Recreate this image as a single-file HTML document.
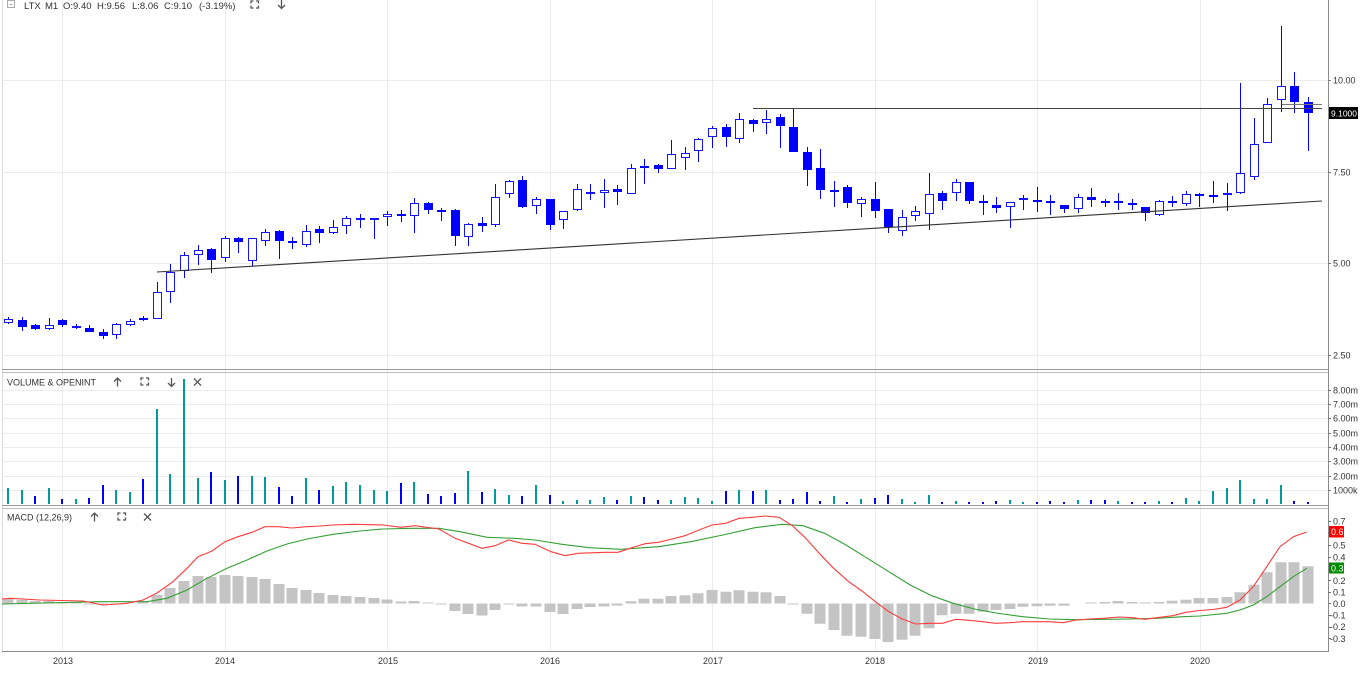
<!DOCTYPE html>
<html><head><meta charset="utf-8">
<style>
html,body{margin:0;padding:0;background:#fff;}
body{width:1366px;height:675px;overflow:hidden;}
svg{display:block;font-family:"Liberation Sans",Arial,sans-serif;}
</style></head><body>
<svg width="1366" height="675" viewBox="0 0 1366 675" xmlns="http://www.w3.org/2000/svg">
<rect x="0" y="0" width="1366" height="675" fill="#fff"/>
<!-- grid -->
<g stroke="#ececec" stroke-width="1" shape-rendering="crispEdges">
<path d="M62.5 0V651M225.5 0V651M387.5 0V651M550.5 0V651M712.5 0V651M875.5 0V651M1037.5 0V651M1200.5 0V651"/>
<path d="M2 80.5H1328M2 172.5H1328M2 263.5H1328M2 355.5H1328"/>
<path d="M2 390.5H1328M2 404.5H1328M2 418.5H1328M2 433.5H1328M2 447.5H1328M2 461.5H1328M2 476.5H1328M2 490.5H1328"/>
</g>
<!-- borders -->
<g shape-rendering="crispEdges">
<path d="M2.5 0V651" stroke="#dcdcdc"/>
<path d="M2 369.5H1328" stroke="#9a9a9a"/>
<path d="M2 372.5H1328" stroke="#bdbdbd"/>
<path d="M2 505.5H1328" stroke="#9a9a9a"/>
<path d="M2 508.5H1328" stroke="#bdbdbd"/>
<path d="M2 651.5H1328" stroke="#8a8a8a"/>
<path d="M1328.5 0V652" stroke="#8a8a8a"/>
<path d="M1328 80.5h3M1328 172.5h3M1328 263.5h3M1328 355.5h3M1328 390.5h3M1328 404.5h3M1328 418.5h3M1328 433.5h3M1328 447.5h3M1328 461.5h3M1328 476.5h3M1328 490.5h3M1328 521.5h3M1328 533.5h3M1328 545.5h3M1328 557.5h3M1328 569.5h3M1328 580.5h3M1328 592.5h3M1328 603.5h3M1328 615.5h3M1328 627.5h3M1328 638.5h3" stroke="#777"/>
</g>

<!-- candle wicks -->
<path stroke="#0000ff" stroke-width="1" fill="none" shape-rendering="crispEdges" d="M8.5 317V324M22.5 317V331M35.5 324V330M49.5 318V330M62.5 319V327M76.5 324V329M89.5 325V332M103.5 329V339M116.5 323V339M130.5 319V326M143.5 316V321M157.5 282V319M170.5 264V303M184.5 252V278M198.5 245V265M211.5 248V273M225.5 236V262M238.5 237V253M252.5 238V266M265.5 229V246M279.5 230V259M292.5 237V249M306.5 225V247M319.5 226V243M333.5 220V234M346.5 216V234M360.5 214V228M374.5 219V239M387.5 211V226M401.5 210V222M414.5 198V233M428.5 202V214M441.5 208V221M455.5 209V246M468.5 223V246M482.5 217V232M495.5 184V227M509.5 180V198M522.5 176V208M536.5 197V214M550.5 199V230M563.5 211V229M577.5 184V211M590.5 184V200M604.5 179V208M617.5 185V205M631.5 164V194M644.5 159V184M658.5 164V173M671.5 140V169M685.5 147V170M698.5 138V162M712.5 126V148M726.5 124V147M739.5 113V143M753.5 119V132M766.5 110V134M780.5 114V148M793.5 109V152M807.5 147V186M820.5 149V199M834.5 181V207M847.5 185V208M861.5 197V217M875.5 182V218M888.5 209V233M902.5 210V236M915.5 206V221M929.5 173V230M942.5 191V210M956.5 179V201M969.5 182V204M983.5 195V215M996.5 197V213M1010.5 202V228M1023.5 195V210M1037.5 187V212M1050.5 195V215M1064.5 205V213M1078.5 194V213M1091.5 188V207M1105.5 199V207M1118.5 193V210M1132.5 199V210M1145.5 207V221M1159.5 200V216M1172.5 196V207M1186.5 191V206M1199.5 193V207M1213.5 181V203M1227.5 183V211M1240.5 83V194M1254.5 118V180M1267.5 98V143M1281.5 26V112M1294.5 72V113M1308.5 97V151"/>
<!-- filled bodies -->
<path fill="#0000ff" shape-rendering="crispEdges" d="M18 320h9V327h-9ZM31 325h9V329h-9ZM58 320h9V325h-9ZM85 328h9V332h-9ZM99 332h9V336h-9ZM139 318h9V320h-9ZM207 249h9V260h-9ZM234 238h9V242h-9ZM275 231h9V241h-9ZM288 241h9V243h-9ZM315 229h9V233h-9ZM397 214h9V216h-9ZM424 203h9V210h-9ZM437 210h9V212h-9ZM451 210h9V236h-9ZM478 223h9V226h-9ZM518 180h9V207h-9ZM546 199h9V225h-9ZM613 189h9V192h-9ZM640 166h9V168h-9ZM654 165h9V169h-9ZM722 127h9V137h-9ZM749 120h9V124h-9ZM776 117h9V126h-9ZM789 127h9V152h-9ZM803 152h9V170h-9ZM816 168h9V190h-9ZM830 190h9V192h-9ZM843 187h9V203h-9ZM871 199h9V211h-9ZM884 209h9V227h-9ZM938 193h9V201h-9ZM965 182h9V201h-9ZM979 201h9V203h-9ZM992 205h9V208h-9ZM1033 200h9V202h-9ZM1046 201h9V203h-9ZM1060 205h9V209h-9ZM1087 197h9V200h-9ZM1101 201h9V203h-9ZM1114 201h9V203h-9ZM1128 203h9V205h-9ZM1141 207h9V213h-9ZM1168 201h9V203h-9ZM1195 194h9V196h-9ZM1209 195h9V197h-9ZM1290 86h9V102h-9ZM1304 102h9V113h-9Z"/>
<!-- hollow bodies -->
<path fill="#fff" stroke="#1414ff" stroke-width="1" shape-rendering="crispEdges" d="M4.5 319.5h8V322.5h-8ZM45.5 325.5h8V328.5h-8ZM72.5 326.5h8V327.5h-8ZM112.5 324.5h8V334.5h-8ZM126.5 321.5h8V324.5h-8ZM153.5 292.5h8V318.5h-8ZM166.5 272.5h8V291.5h-8ZM180.5 255.5h8V270.5h-8ZM194.5 250.5h8V254.5h-8ZM221.5 238.5h8V257.5h-8ZM248.5 238.5h8V260.5h-8ZM261.5 232.5h8V240.5h-8ZM302.5 231.5h8V244.5h-8ZM329.5 227.5h8V232.5h-8ZM342.5 218.5h8V225.5h-8ZM356.5 218.5h8V219.5h-8ZM370.5 218.5h8V219.5h-8ZM383.5 214.5h8V216.5h-8ZM410.5 203.5h8V215.5h-8ZM464.5 224.5h8V236.5h-8ZM491.5 197.5h8V224.5h-8ZM505.5 181.5h8V193.5h-8ZM532.5 199.5h8V205.5h-8ZM559.5 211.5h8V219.5h-8ZM573.5 189.5h8V209.5h-8ZM586.5 192.5h8V193.5h-8ZM600.5 190.5h8V192.5h-8ZM627.5 168.5h8V193.5h-8ZM667.5 154.5h8V168.5h-8ZM681.5 153.5h8V157.5h-8ZM694.5 139.5h8V150.5h-8ZM708.5 128.5h8V136.5h-8ZM735.5 119.5h8V138.5h-8ZM762.5 119.5h8V122.5h-8ZM857.5 199.5h8V203.5h-8ZM898.5 217.5h8V230.5h-8ZM911.5 211.5h8V215.5h-8ZM925.5 194.5h8V213.5h-8ZM952.5 182.5h8V192.5h-8ZM1006.5 202.5h8V206.5h-8ZM1019.5 198.5h8V199.5h-8ZM1074.5 197.5h8V208.5h-8ZM1155.5 201.5h8V214.5h-8ZM1182.5 194.5h8V203.5h-8ZM1223.5 193.5h8V194.5h-8ZM1236.5 173.5h8V192.5h-8ZM1250.5 144.5h8V176.5h-8ZM1263.5 104.5h8V142.5h-8ZM1277.5 86.5h8V99.5h-8Z"/>

<!-- drawn lines -->
<line x1="157" y1="272" x2="1322" y2="201" stroke="#333" stroke-width="1.1"/>
<path d="M753 108.5H1322" stroke="#444" stroke-width="1" shape-rendering="crispEdges"/>
<path d="M1282 104.5H1322" stroke="#777" stroke-width="1" shape-rendering="crispEdges"/>

<!-- volume -->
<path fill="#009b9b" shape-rendering="crispEdges" d="M7 488h2V504h-2ZM21 490h2V504h-2ZM48 488h2V504h-2ZM75 499h2V504h-2ZM115 490h2V504h-2ZM129 492h2V504h-2ZM156 409h2V504h-2ZM169 474h2V504h-2ZM183 379h2V504h-2ZM197 478h2V504h-2ZM224 480h2V504h-2ZM251 476h2V504h-2ZM264 477h2V504h-2ZM305 478h2V504h-2ZM332 486h2V504h-2ZM345 482h2V504h-2ZM359 485h2V504h-2ZM373 490h2V504h-2ZM386 491h2V504h-2ZM413 482h2V504h-2ZM467 471h2V504h-2ZM494 489h2V504h-2ZM508 495h2V504h-2ZM535 485h2V504h-2ZM562 501h2V504h-2ZM576 500h2V504h-2ZM589 500h2V504h-2ZM603 497h2V504h-2ZM630 496h2V504h-2ZM670 500h2V504h-2ZM684 497h2V504h-2ZM697 498h2V504h-2ZM711 501h2V504h-2ZM738 490h2V504h-2ZM765 490h2V504h-2ZM833 496h2V504h-2ZM860 499h2V504h-2ZM901 499h2V504h-2ZM914 502h2V504h-2ZM928 495h2V504h-2ZM955 501h2V504h-2ZM1009 500h2V504h-2ZM1022 502h2V504h-2ZM1077 500h2V504h-2ZM1117 501h2V504h-2ZM1158 501h2V504h-2ZM1185 498h2V504h-2ZM1198 501h2V504h-2ZM1212 491h2V504h-2ZM1226 488h2V504h-2ZM1239 480h2V504h-2ZM1253 499h2V504h-2ZM1266 499h2V504h-2ZM1280 485h2V504h-2Z"/>
<path fill="#0000ff" shape-rendering="crispEdges" d="M34 496h2V504h-2ZM61 499h2V504h-2ZM88 498h2V504h-2ZM102 485h2V504h-2ZM142 479h2V504h-2ZM210 472h2V504h-2ZM237 476h2V504h-2ZM278 487h2V504h-2ZM291 496h2V504h-2ZM318 490h2V504h-2ZM400 483h2V504h-2ZM427 494h2V504h-2ZM440 496h2V504h-2ZM454 493h2V504h-2ZM481 492h2V504h-2ZM521 496h2V504h-2ZM549 495h2V504h-2ZM616 500h2V504h-2ZM643 497h2V504h-2ZM657 500h2V504h-2ZM725 491h2V504h-2ZM752 491h2V504h-2ZM779 500h2V504h-2ZM792 499h2V504h-2ZM806 492h2V504h-2ZM819 501h2V504h-2ZM846 502h2V504h-2ZM874 498h2V504h-2ZM887 495h2V504h-2ZM941 502h2V504h-2ZM968 502h2V504h-2ZM982 502h2V504h-2ZM995 501h2V504h-2ZM1036 502h2V504h-2ZM1049 501h2V504h-2ZM1063 502h2V504h-2ZM1090 500h2V504h-2ZM1104 500h2V504h-2ZM1131 502h2V504h-2ZM1144 502h2V504h-2ZM1171 502h2V504h-2ZM1293 501h2V504h-2ZM1307 502h2V504h-2Z"/>

<!-- MACD histogram -->
<path fill="#c4c4c4" d="M2.5 599h11V603.5h-11ZM16.5 600h11V603.5h-11ZM29.5 601h11V603.5h-11ZM43.5 601h11V603.5h-11ZM56.5 602h11V603.5h-11ZM70.5 602.5h11V603.5h-11ZM83.5 604.5h11V603.5h-11ZM97.5 605h11V603.5h-11ZM110.5 604.5h11V603.5h-11ZM137.5 602h11V603.5h-11ZM151.5 595h11V603.5h-11ZM164.5 588h11V603.5h-11ZM178.5 581h11V603.5h-11ZM192.5 576h11V603.5h-11ZM205.5 577h11V603.5h-11ZM219.5 575h11V603.5h-11ZM232.5 576h11V603.5h-11ZM246.5 577h11V603.5h-11ZM259.5 579h11V603.5h-11ZM273.5 584h11V603.5h-11ZM286.5 588h11V603.5h-11ZM300.5 590h11V603.5h-11ZM313.5 593h11V603.5h-11ZM327.5 595h11V603.5h-11ZM340.5 596h11V603.5h-11ZM354.5 597h11V603.5h-11ZM368.5 598h11V603.5h-11ZM381.5 599.5h11V603.5h-11ZM395.5 601.5h11V603.5h-11ZM408.5 601h11V603.5h-11ZM422.5 602.5h11V603.5h-11ZM435.5 604.5h11V603.5h-11ZM449.5 611h11V603.5h-11ZM462.5 614h11V603.5h-11ZM476.5 615.5h11V603.5h-11ZM489.5 610h11V603.5h-11ZM503.5 604.5h11V603.5h-11ZM516.5 606.5h11V603.5h-11ZM530.5 606.5h11V603.5h-11ZM544.5 612h11V603.5h-11ZM557.5 614h11V603.5h-11ZM571.5 609h11V603.5h-11ZM584.5 607h11V603.5h-11ZM598.5 606.5h11V603.5h-11ZM611.5 605.5h11V603.5h-11ZM625.5 601.3h11V603.5h-11ZM638.5 598.7h11V603.5h-11ZM652.5 598.7h11V603.5h-11ZM665.5 596h11V603.5h-11ZM679.5 595.3h11V603.5h-11ZM692.5 593.3h11V603.5h-11ZM706.5 590h11V603.5h-11ZM720.5 591.7h11V603.5h-11ZM733.5 590.3h11V603.5h-11ZM747.5 591.7h11V603.5h-11ZM760.5 592.3h11V603.5h-11ZM774.5 596h11V603.5h-11ZM787.5 604.5h11V603.5h-11ZM801.5 613.7h11V603.5h-11ZM814.5 623.7h11V603.5h-11ZM828.5 630h11V603.5h-11ZM841.5 635.7h11V603.5h-11ZM855.5 636.7h11V603.5h-11ZM869.5 639h11V603.5h-11ZM882.5 642h11V603.5h-11ZM896.5 639.7h11V603.5h-11ZM909.5 635.7h11V603.5h-11ZM923.5 628.3h11V603.5h-11ZM936.5 615.3h11V603.5h-11ZM950.5 613.7h11V603.5h-11ZM963.5 613.7h11V603.5h-11ZM977.5 611.7h11V603.5h-11ZM990.5 610h11V603.5h-11ZM1004.5 609h11V603.5h-11ZM1017.5 606.7h11V603.5h-11ZM1031.5 606.3h11V603.5h-11ZM1044.5 605.7h11V603.5h-11ZM1058.5 605.7h11V603.5h-11ZM1085.5 602.5h11V603.5h-11ZM1099.5 602h11V603.5h-11ZM1112.5 601h11V603.5h-11ZM1126.5 602h11V603.5h-11ZM1139.5 602.5h11V603.5h-11ZM1153.5 602h11V603.5h-11ZM1166.5 600.7h11V603.5h-11ZM1180.5 599.7h11V603.5h-11ZM1193.5 598h11V603.5h-11ZM1207.5 598h11V603.5h-11ZM1221.5 597h11V603.5h-11ZM1234.5 592.3h11V603.5h-11ZM1248.5 584.7h11V603.5h-11ZM1261.5 572.3h11V603.5h-11ZM1275.5 562.3h11V603.5h-11ZM1288.5 562.3h11V603.5h-11ZM1302.5 566.3h11V603.5h-11Z"/>

<!-- MACD lines -->
<polyline fill="none" stroke="#33a033" stroke-width="1.1" points="2,604 100,601.7 147,601.7 167,598.3 187,590 207,578.3 227,568.3 247,560 267,551 287,544 307,539 333,534.3 360,531 383,529 412,528.3 439,528.3 460,531.7 487,537.3 514,538.3 535,540 562,544.3 589,547.7 621,549.3 658.5,546.7 690.7,541.7 722.8,535 755,527.7 781.7,524.3 803,525.7 824.6,533.3 846,545 867.4,558.3 888.8,571.7 910.3,585 931.7,595.7 953.1,603.3 974.5,609 996,613 1022.7,616.7 1049.5,619 1076.3,619.7 1103.1,619.3 1129.9,619 1156.6,618.3 1183.4,616.7 1200,616 1226.7,613.3 1240,610 1253.3,605 1266.7,596.7 1280,586.7 1293.3,576.7 1306.7,568.3"/>
<polyline fill="none" stroke="#ff3b3b" stroke-width="1.1" points="2,599 10,598.3 40,600 83,601 103,605 127,603.3 143,600 157,593 173,581.7 187,568.3 198,556.7 212,551 225,541.7 238,536.7 252,532.3 265,526.7 278,526.7 292,528 307,526.7 320,526 333,525 353,524.3 383,525 401,527.3 415,525.7 439,529 455,538.3 482,548.3 495,545.7 508.5,540 522,543.3 535,544.3 551,551.7 565,555.7 578,553.3 605,552.3 618,552.3 632,547.7 645,543.7 658.5,542.3 672,539 685,535.7 699,530 712,525 725.5,523.3 739,518.3 752,517.3 765.6,516 779,517.3 792.4,525.7 805.8,538.3 819.2,553.3 832.6,567.3 848.7,581.7 862,591 875.4,601.7 888.8,611.7 902.2,619 915.6,624 929,623.3 942.4,623.3 955.8,619.3 969.2,620.3 982.6,621.7 996,623.3 1009.4,622.7 1022.7,621.7 1049.5,621.7 1062.9,622.7 1076.3,620 1089.7,619 1103.1,618.3 1119.1,617 1132.5,617.7 1144.9,619.3 1156.6,617.7 1172.7,615.7 1186.1,612.3 1199.5,610.5 1213,609.5 1226.7,607.3 1240,600 1253.3,586.7 1266.7,566.7 1280,546.7 1293.3,536.7 1306.7,532"/>

<!-- header -->
<g fill="none" stroke="#aaa" stroke-width="1" shape-rendering="crispEdges">
<rect x="7.5" y="0.5" width="7" height="7"/>
<path d="M9.5 4.5h3"/>
</g>
<g font-size="9.5" fill="#333">
<text x="24" y="9">LTX</text>
<text x="45" y="9">M1</text>
<text x="63" y="9">O:9.40</text>
<text x="97" y="9">H:9.56</text>
<text x="132" y="9">L:8.06</text>
<text x="164" y="9">C:9.10</text>
<text x="199" y="9">(-3.19%)</text>
</g>
<g fill="none" stroke="#555" stroke-width="1.3">
<path d="M251 3.5V1H253.5M256 1H258.5V3.5M258.5 5.5V8H256M253.5 8H251V5.5"/>
<path d="M281.5 0V8.5M278 5L281.5 8.5L285 5"/>
<!-- volume icons -->
<path d="M117.5 378V386.5M114 381.5L117.5 378L121 381.5"/>
<path d="M141 380.5V378H143.5M146 378H148.5V380.5M148.5 382.5V385H146M143.5 385H141V382.5"/>
<path d="M171.5 378V386.5M168 383L171.5 386.5L175 383"/>
<path d="M194 378.5L201 385.5M201 378.5L194 385.5"/>
<!-- macd icons -->
<path d="M94.5 513V521.5M91 516.5L94.5 513L98 516.5"/>
<path d="M118 515.5V513H120.5M123 513H125.5V515.5M125.5 517.5V520H123M120.5 520H118V517.5"/>
<path d="M144 513.5L151 520.5M151 513.5L144 520.5"/>
</g>
<text x="7" y="385.5" font-size="9" fill="#333">VOLUME &amp; OPENINT</text>
<text x="7" y="520.5" font-size="9" fill="#333">MACD (12,26,9)</text>

<!-- right axis labels -->
<g font-size="9" fill="#333">
<text x="1333" y="83.5">10.00</text>
<text x="1333" y="175.5">7.50</text>
<text x="1333" y="266.5">5.00</text>
<text x="1333" y="358.5">2.50</text>
<text x="1333" y="393.5">8.00m</text>
<text x="1333" y="407.5">7.00m</text>
<text x="1333" y="421.5">6.00m</text>
<text x="1333" y="436.5">5.00m</text>
<text x="1333" y="450.5">4.00m</text>
<text x="1333" y="464.5">3.00m</text>
<text x="1333" y="479.5">2.00m</text>
<text x="1333" y="493.5">1000k</text>
<text x="1333" y="524.7">0.7</text>
<text x="1333" y="548.7">0.5</text>
<text x="1333" y="560.4">0.4</text>
<text x="1333" y="583.8">0.2</text>
<text x="1333" y="595.3">0.1</text>
<text x="1333" y="606.8">0.0</text>
<text x="1330" y="618.5">-0.1</text>
<text x="1330" y="630.1">-0.2</text>
<text x="1330" y="641.8">-0.3</text>
</g>
<rect x="1329" y="107" width="29" height="12" fill="#000"/>
<text x="1331" y="116.5" font-size="8.5" fill="#fff">9.1000</text>
<rect x="1329" y="526" width="15" height="11.5" fill="#ff0000"/>
<text x="1331" y="535" font-size="9" fill="#fff">0.6</text>
<rect x="1329" y="562.5" width="15" height="11" fill="#008a00"/>
<text x="1331" y="571.5" font-size="9" fill="#fff">0.3</text>

<!-- time axis -->
<g font-size="9" fill="#333" text-anchor="middle">
<text x="63" y="664">2013</text>
<text x="225" y="664">2014</text>
<text x="388" y="664">2015</text>
<text x="550" y="664">2016</text>
<text x="713" y="664">2017</text>
<text x="875" y="664">2018</text>
<text x="1038" y="664">2019</text>
<text x="1200" y="664">2020</text>
</g>
</svg>
</body></html>
